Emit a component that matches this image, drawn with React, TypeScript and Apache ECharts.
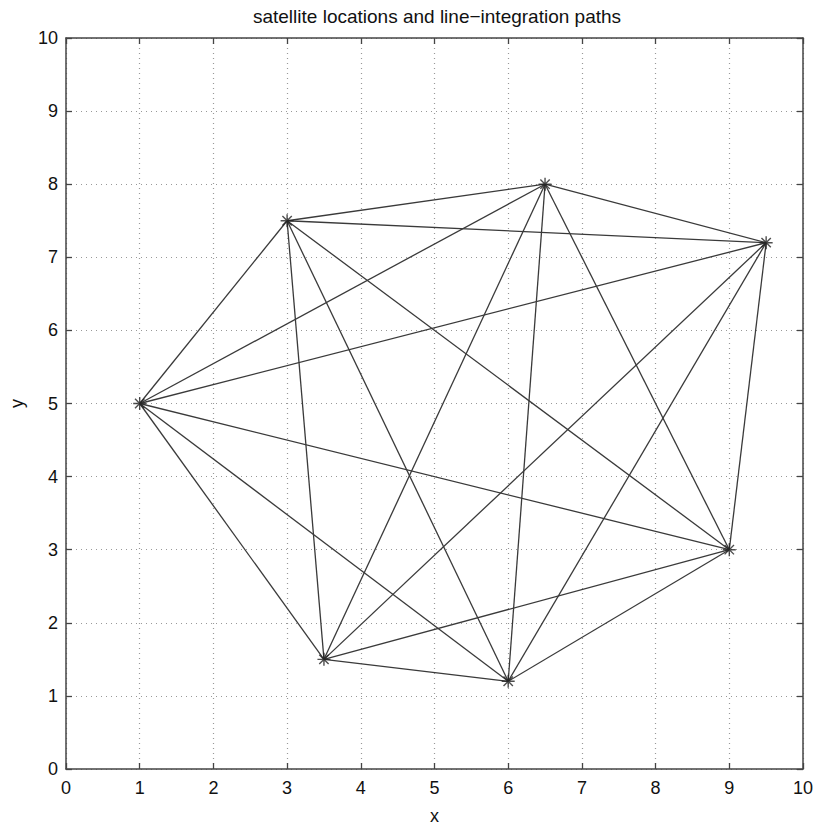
import React, { useEffect, useRef } from "react";
import * as echarts from "echarts";

const satX = [1, 3, 6.5, 9.5, 9, 6, 3.5];
const satY = [5, 7.5, 8, 7.2, 3, 1.2, 1.5];
const edges: [number, number][] = [
  [0, 1], [0, 2], [0, 3], [0, 4], [0, 5], [0, 6],
  [1, 2], [1, 3], [1, 4], [1, 5], [1, 6],
  [2, 3], [2, 4], [2, 5], [2, 6],
  [3, 4], [3, 5], [3, 6],
  [4, 5], [4, 6],
  [5, 6],
];
const ticks = [0, 1, 2, 3, 4, 5, 6, 7, 8, 9, 10];
const titleText = "satellite locations and line\u2212integration paths";

const FONT = "'Liberation Sans', Arial, Helvetica, sans-serif";
const starPath =
  "path://M0,-5L0,5M-5,0L5,0M-3.6,-3.6L3.6,3.6M-3.6,3.6L3.6,-3.6";

export default function App() {
  const ref = useRef<HTMLDivElement>(null);
  useEffect(() => {
    if (!ref.current) return;
    const chart = echarts.init(ref.current, undefined, { renderer: "svg" });
    const axisCommon = {
      type: "value" as const,
      min: ticks[0],
      max: ticks[ticks.length - 1],
      interval: 1,
      axisLine: { show: true, onZero: false, lineStyle: { color: "#444", width: 1.5 } },
      axisTick: { show: true, inside: true, length: 6, lineStyle: { color: "#444", width: 1.3 } },
    };
    const lineSeries = edges.map(([a, b]) => ({
      type: "line" as const,
      data: [
        [satX[a], satY[a]],
        [satX[b], satY[b]],
      ],
      symbol: "none",
      lineStyle: { color: "#3a3a3a", width: 1.3 },
      silent: true,
      z: 3,
    }));
    chart.setOption({
      animation: false,
      backgroundColor: "#fff",
      title: {
        text: titleText,
        left: 432,
        textAlign: "center",
        top: 2,
        textStyle: { fontFamily: FONT, fontSize: 19, fontWeight: "normal", color: "#111" },
      },
      grid: { left: 62, right: 16, top: 38, bottom: 53, containLabel: false },
      xAxis: [
        {
          ...axisCommon,
          position: "bottom",
          name: "x",
          nameLocation: "middle",
          nameGap: 38,
          nameTextStyle: { fontFamily: FONT, fontSize: 18, color: "#111" },
          axisLabel: { fontFamily: FONT, fontSize: 18, color: "#111", margin: 10 },
          splitLine: { show: true, lineStyle: { type: [1, 4], color: "#999", width: 1.2 } },
        },
        {
          ...axisCommon,
          position: "top",
          axisLabel: { show: false },
          splitLine: { show: false },
        },
      ],
      yAxis: [
        {
          ...axisCommon,
          position: "left",
          name: "y",
          nameLocation: "middle",
          nameGap: 40,
          nameTextStyle: { fontFamily: FONT, fontSize: 18, color: "#111" },
          axisLabel: { fontFamily: FONT, fontSize: 18, color: "#111", margin: 8 },
          splitLine: { show: true, lineStyle: { type: [1, 4], color: "#999", width: 1.2 } },
        },
        {
          ...axisCommon,
          position: "right",
          axisLabel: { show: false },
          splitLine: { show: false },
        },
      ],
      series: [
        ...lineSeries,
        {
          type: "scatter",
          data: satX.map((x, i) => [x, satY[i]]),
          symbol: starPath,
          symbolSize: 13,
          itemStyle: { color: "none", borderColor: "#222", borderWidth: 1.4 },
          z: 5,
        },
      ],
    });
    return () => chart.dispose();
  }, []);
  return (
    <div
      ref={ref}
      style={{ position: "absolute", left: 0, top: 0, width: 819, height: 830 }}
    />
  );
}
